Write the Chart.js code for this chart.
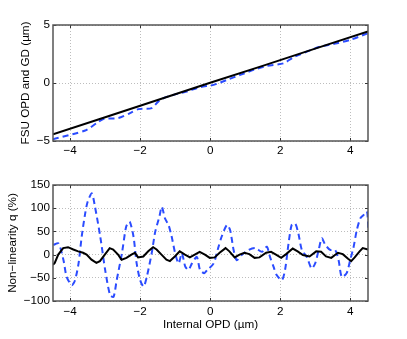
<!DOCTYPE html>
<html>
<head>
<meta charset="utf-8">
<script src="https://cdn.jsdelivr.net/npm/chart.js@4"></script>
<style>
    html, body { margin: 0; padding: 0; background: #fff; }
    #wrap { position: relative; width: 407px; height: 339px; }
    canvas { position: absolute; left: 0; }
    #topChart { top: 0; }
    #bottomChart { top: 170px; }
</style>
</head>
<body>
<div id="wrap">
    <canvas id="topChart" width="407" height="170"></canvas>
    <canvas id="bottomChart" width="407" height="169"></canvas>
</div>
<script>
// --- DATA ---
const xMin = -4.49, xMax = 4.51;
const xTicks = [-4, -2, 0, 2, 4];
const topYTicks = [-5, 0, 5];
const bottomYTicks = [-100, -50, 0, 50, 100, 150];

// top panel: FSU OPD (black) and GD (blue dashed), µm
const opdX = [-4.49, -3, -1.5, 0, 1.5, 3, 4.51];
const opdY = [-4.42, -2.95, -1.47, 0.02, 1.48, 2.96, 4.44];
const gdX = [-4.49, -3.57, -3.24, -3.05, -2.62, -2.29, -2.05, -1.67, -1.43, -1.05, -0.67, -0.29, 0.10, 0.48, 0.86, 1.24, 1.62, 2.10, 2.38, 2.76, 3.14, 3.62, 4.00, 4.51];
const gdY = [-4.85, -4.09, -3.45, -3.11, -3.02, -2.60, -2.25, -2.16, -1.45, -1.02, -0.73, -0.36, -0.16, 0.27, 0.70, 1.13, 1.47, 1.70, 2.22, 2.70, 3.13, 3.43, 3.71, 4.30];

// bottom panel: non-linearity q (%), OPD (black) and GD (blue dashed)
const qOpdX = [-4.49, -4.44, -4.34, -4.20, -4.06, -3.91, -3.77, -3.63, -3.53, -3.39, -3.25, -3.15, -3.01, -2.87, -2.77, -2.63, -2.53, -2.39, -2.25, -2.15, -2.06, -1.91, -1.77, -1.63, -1.53, -1.39, -1.25, -1.15, -1.01, -0.87, -0.72, -0.58, -0.44, -0.30, -0.15, -0.01, 0.13, 0.27, 0.44, 0.55, 0.70, 0.84, 0.98, 1.12, 1.27, 1.41, 1.60, 1.74, 1.88, 2.03, 2.17, 2.36, 2.50, 2.65, 2.84, 3.03, 3.17, 3.31, 3.46, 3.65, 3.79, 3.94, 4.03, 4.13, 4.27, 4.36, 4.51];
const qOpdY = [-22, -18, 0, 14, 16, 11, 7, 4, 0, -11, -18, -14, 0, 14, 11, 0, -11, -7, 0, 4, -6, -4, 7, 16, 11, 0, -11, -14, -4, 7, 0, -6, 0, 6, 0, -7, -6, 4, 14, 7, -6, 0, 4, 1, -7, -6, 4, 6, 0, -7, 1, 13, 7, -1, -4, 7, 6, -4, -7, 4, 1, -9, -14, -6, 7, 14, 11];
const qGdX = [-4.48, -4.33, -4.19, -4.10, -3.95, -3.86, -3.76, -3.67, -3.57, -3.50, -3.38, -3.29, -3.14, -3.00, -2.86, -2.76, -2.67, -2.52, -2.40, -2.30, -2.19, -2.10, -2.00, -1.90, -1.81, -1.67, -1.57, -1.45, -1.38, -1.29, -1.19, -1.10, -1.00, -0.90, -0.81, -0.71, -0.62, -0.52, -0.38, -0.29, -0.17, -0.08, 0.10, 0.24, 0.33, 0.48, 0.57, 0.67, 0.76, 0.90, 1.10, 1.29, 1.48, 1.62, 1.71, 1.81, 1.90, 2.05, 2.14, 2.24, 2.33, 2.43, 2.52, 2.62, 2.76, 2.90, 3.00, 3.10, 3.19, 3.29, 3.43, 3.57, 3.67, 3.76, 3.90, 4.00, 4.10, 4.19, 4.29, 4.38, 4.48, 4.52];
const qGdY = [21, 24, -12, -48, -66, -55, -19, 39, 89, 114, 132, 103, 39, -33, -87, -91, -55, 3, 60, 71, 39, -19, -55, -69, -48, 3, 49, 82, 103, 78, 64, 39, 3, -19, 3, -26, -33, -19, -5, -33, -40, -33, -19, 17, 39, 64, 53, 10, -12, -1, 10, 14, 6, 17, -5, -26, -44, -55, -33, 24, 64, 67, 46, 10, -5, -30, -19, 10, 35, 21, 10, 10, -12, -48, -40, -12, 17, 53, 78, 85, 93, 53];

// --- HELPERS ---
const FONT = "'Liberation Sans', Arial, Helvetica, sans-serif";
Chart.defaults.font.family = FONT;
Chart.defaults.font.size = 11.7;
Chart.defaults.color = '#000';

const toPoints = (xs, ys) => xs.map((x, i) => ({ x: x, y: ys[i] }));
const fmt = v => (v < 0 ? '\u2212' + Math.abs(v) : String(v));

// box around the axes with small inward ticks, MATLAB style
const framePlugin = {
    id: 'frame',
    afterDatasetsDraw(chart) {
        const { ctx, chartArea: a, scales } = chart;
        ctx.save();
        ctx.strokeStyle = '#333';
        ctx.lineWidth = 1;
        ctx.beginPath();
        scales.x.ticks.forEach(t => {
            const px = Math.round(scales.x.getPixelForValue(t.value)) + 0.5;
            ctx.moveTo(px, a.bottom); ctx.lineTo(px, a.bottom - 3);
            ctx.moveTo(px, a.top); ctx.lineTo(px, a.top + 3);
        });
        scales.y.ticks.forEach(t => {
            const py = Math.round(scales.y.getPixelForValue(t.value)) + 0.5;
            ctx.moveTo(a.left, py); ctx.lineTo(a.left + 3, py);
            ctx.moveTo(a.right, py); ctx.lineTo(a.right - 3, py);
        });
        ctx.stroke();
        ctx.strokeStyle = '#555';
        ctx.lineWidth = 1.5;
        ctx.strokeRect(a.left, a.top, a.right - a.left, a.bottom - a.top);
        ctx.restore();
    }
};

function makeChart(id, opts) {
    const ctx = document.getElementById(id).getContext('2d');
    return new Chart(ctx, {
        type: 'line',
        data: {
            datasets: [
                {
                    data: opts.black,
                    borderColor: '#000',
                    borderWidth: 2,
                    pointRadius: 0,
                    tension: 0
                },
                {
                    data: opts.blue,
                    borderColor: '#2b4cff',
                    borderWidth: 2,
                    borderDash: [6, 4],
                    pointRadius: 0,
                    tension: 0.25
                }
            ]
        },
        options: {
            responsive: false,
            animation: false,
            layout: { padding: { top: opts.padTop, right: 39, left: 0, bottom: 0 } },
            plugins: { legend: { display: false }, tooltip: { enabled: false } },
            scales: {
                x: {
                    type: 'linear',
                    min: xMin,
                    max: xMax,
                    afterBuildTicks: s => { s.ticks = xTicks.map(v => ({ value: v })); },
                    afterFit: s => { s.height = opts.xHeight; },
                    grid: { color: '#bdbdbd', drawTicks: false },
                    border: { display: false, dash: [1, 2] },
                    ticks: { padding: opts.xPad, autoSkip: false, maxRotation: 0, callback: v => fmt(v) },
                    title: opts.xTitle ? { display: true, text: opts.xTitle, padding: { top: 0, bottom: 7 } } : { display: false }
                },
                y: {
                    type: 'linear',
                    min: opts.yTicks[0],
                    max: opts.yTicks[opts.yTicks.length - 1],
                    afterBuildTicks: s => { s.ticks = opts.yTicks.map(v => ({ value: v })); },
                    afterFit: s => { s.width = 53; },
                    grid: { color: '#bdbdbd', drawTicks: false },
                    border: { display: false, dash: [1, 2] },
                    ticks: { padding: 3, autoSkip: false, callback: v => fmt(v) },
                    title: { display: true, text: opts.yTitle, padding: { top: opts.yTitlePad, bottom: 0 } }
                }
            }
        },
        plugins: [framePlugin]
    });
}

// --- INITIALIZATION ---
makeChart('topChart', {
    black: toPoints(opdX, opdY),
    blue: toPoints(gdX, gdY),
    yTicks: topYTicks,
    yTitle: 'FSU OPD and GD (\u00b5m)',
    yTitlePad: 19,
    padTop: 25,
    xHeight: 29,
    xPad: 3
});

makeChart('bottomChart', {
    black: toPoints(qOpdX, qOpdY),
    blue: toPoints(qGdX, qGdY),
    yTicks: bottomYTicks,
    yTitle: 'Non\u2212linearity q (%)',
    yTitlePad: 6,
    padTop: 15,
    xHeight: 38,
    xPad: 4,
    xTitle: 'Internal OPD (\u00b5m)'
});
</script>
</body>
</html>
